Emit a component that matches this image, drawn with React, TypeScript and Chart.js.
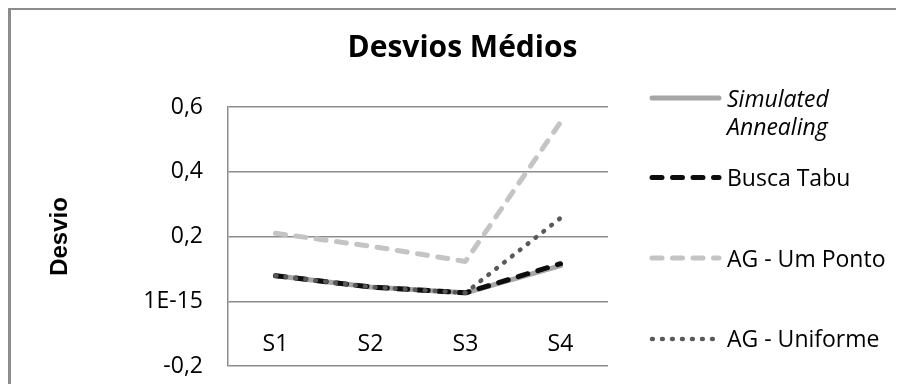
import React, { useEffect, useRef } from 'react';
import { Chart, registerables } from 'chart.js';

Chart.register(...registerables);

const categories = ['S1', 'S2', 'S3', 'S4'];
const simulatedAnnealing = [0.079, 0.044, 0.026, 0.11];
const buscaTabu = [0.079, 0.044, 0.026, 0.116];
const agUmPonto = [0.21, 0.17, 0.123, 0.553];
const agUniforme = [0.079, 0.044, 0.026, 0.257];
const yTickLabels = ['-0,2', '1E-15', '0,2', '0,4', '0,6'];
const seriesNames = ['Simulated Annealing', 'Busca Tabu', 'AG - Um Ponto', 'AG - Uniforme'];
const legendLines = [['Simulated', 'Annealing'], ['Busca Tabu'], ['AG - Um Ponto'], ['AG - Uniforme']];

const FONT = "'Open Sans', sans-serif";
const GRID = '#8c8c8c';

// legend rows: offsets relative to chartArea.top
const legendRows = [
  { lineDy: -9, textDy: [-0.3, 28], italic: true },
  { lineDy: 70.5, textDy: [79], italic: false },
  { lineDy: 151, textDy: [159.5], italic: false },
  { lineDy: 232, textDy: [239.7], italic: false },
];

const sideLegend = {
  id: 'sideLegend',
  afterDraw(chart: any) {
    const { ctx, chartArea } = chart;
    const x0 = chartArea.right;
    ctx.save();
    legendRows.forEach((row, i) => {
      const ds: any = chart.data.datasets[i];
      const y = chartArea.top + row.lineDy;
      ctx.beginPath();
      ctx.lineCap = 'round';
      ctx.strokeStyle = ds.borderColor;
      ctx.lineWidth = ds.borderWidth;
      ctx.setLineDash(ds.borderDash || []);
      ctx.moveTo(x0 + 44, y);
      ctx.lineTo(x0 + 111, y);
      ctx.stroke();
      ctx.setLineDash([]);
      ctx.fillStyle = '#000';
      ctx.textAlign = 'left';
      ctx.textBaseline = 'alphabetic';
      ctx.font = `${row.italic ? 'italic ' : ''}23px ${FONT}`;
      legendLines[i].forEach((t, k) => {
        ctx.fillText(t, x0 + 119, chartArea.top + row.textDy[k]);
      });
    });
    ctx.restore();
  },
};

export default function App() {
  const ref = useRef<HTMLCanvasElement>(null);
  useEffect(() => {
    const chart = new Chart(ref.current as HTMLCanvasElement, {
      type: 'line',
      data: {
        labels: categories,
        datasets: [
          { label: seriesNames[0], data: simulatedAnnealing, borderColor: '#a6a6a6', borderWidth: 5, order: 3 },
          { label: seriesNames[1], data: buscaTabu, borderColor: '#0d0d0d', borderWidth: 5, borderDash: [10, 10.5], order: 1 },
          { label: seriesNames[2], data: agUmPonto, borderColor: '#c4c4c4', borderWidth: 5, borderDash: [10, 10.5], order: 2 },
          { label: seriesNames[3], data: agUniforme, borderColor: '#595959', borderWidth: 4.5, borderDash: [0.8, 9.2], order: 0 },
        ] as any,
      },
      options: {
        animation: false,
        responsive: false,
        devicePixelRatio: 1,
        layout: { padding: { left: 18, right: 0, top: 0, bottom: 18 } },
        elements: {
          line: { tension: 0, borderCapStyle: 'round', borderJoinStyle: 'round', fill: false },
          point: { radius: 0, hoverRadius: 0 },
        },
        plugins: {
          legend: { display: false },
          tooltip: { enabled: false },
          title: {
            display: true,
            text: 'Desvios Médios',
            color: '#000',
            font: { family: FONT, size: 30, weight: 'bold' },
            padding: { top: 20.5, bottom: 40.5 },
          },
        },
        scales: {
          x: {
            offset: true,
            grid: { display: false, drawTicks: false },
            border: { display: false },
            ticks: { mirror: true, padding: 8, autoSkip: false, maxRotation: 0, color: '#000', font: { family: FONT, size: 23 } },
            afterFit: (s: any) => { s.height = 0; s.paddingLeft = 0; s.paddingRight = 0; },
          },
          y: {
            position: 'left',
            min: -0.2,
            max: 0.6,
            ticks: {
              stepSize: 0.2,
              padding: 25,
              color: '#000',
              font: { family: FONT, size: 23 },
              callback: (_v: any, i: number) => yTickLabels[i],
            },
            grid: { color: GRID, lineWidth: 1.5, drawTicks: false },
            border: { display: true, color: GRID, width: 1.5 },
            title: {
              display: true,
              text: 'Desvio',
              color: '#000',
              font: { family: "'Liberation Sans', Arial, sans-serif", size: 24, weight: 'bold' },
              padding: { top: 17, bottom: 0 },
            },
            afterFit: (s: any) => { s.width = 199; s.paddingTop = 0; s.paddingBottom = 0; },
          },
          y2: {
            position: 'right',
            display: true,
            grid: { display: false, drawTicks: false },
            border: { display: false },
            ticks: { display: false },
            afterFit: (s: any) => { s.width = 288; s.paddingTop = 0; s.paddingBottom = 0; },
          },
        },
      } as any,
      plugins: [sideLegend],
    });
    return () => chart.destroy();
  }, []);
  return (
    <div style={{ borderLeft: '3px solid #8c8c8c', borderTop: '2px solid #8c8c8c', width: 885, height: 374 }}>
      <canvas ref={ref} width={885} height={374} style={{ display: 'block' }} />
    </div>
  );
}
